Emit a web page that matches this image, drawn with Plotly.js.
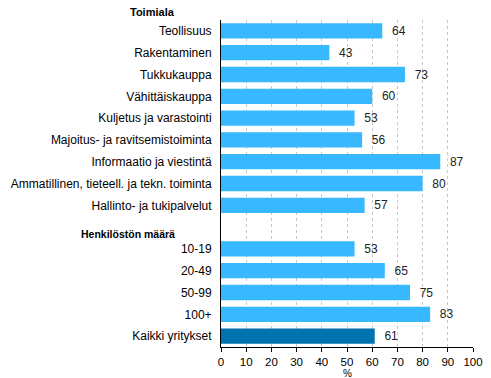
<!DOCTYPE html>
<html><head><meta charset="utf-8">
<script src="https://cdn.plot.ly/plotly-3.0.1.min.js"></script>
<style>html,body{margin:0;padding:0;background:#fff}</style>
</head><body>
<div id="chart" style="width:491px;height:378px"></div>
<script>
const categories = ["Teollisuus","Rakentaminen","Tukkukauppa","Vähittäiskauppa","Kuljetus ja varastointi","Majoitus- ja ravitsemistoiminta","Informaatio ja viestintä","Ammatillinen, tieteell. ja tekn. toiminta","Hallinto- ja tukipalvelut"," ","10-19","20-49","50-99","100+","Kaikki yritykset"];
const values = [64,43,73,60,53,56,87,80,57,null,53,65,75,83,61];
const headers = ["Toimiala","Henkilöstön määrä"];
const xTicks = [0,10,20,30,40,50,60,70,80,90,100];
const light = "#38b9ff", dark = "#0073b0";
const colors = categories.map(c => c === "Kaikki yritykset" ? dark : light);

const trace = {
  type: "bar", orientation: "h",
  x: values, y: categories,
  marker: {color: colors},
  width: 0.7,
  text: values.map(v => v === null ? "" : "\u00a0\u00a0" + v),
  textposition: "outside",
  textfont: {family: "Liberation Sans, Arial, sans-serif", size: 12, color: "#222"},
  cliponaxis: false,
  hoverinfo: "none"
};

const layout = {
  width: 491, height: 378,
  margin: {l: 221, r: 18, t: 20, b: 31},
  paper_bgcolor: "#fff", plot_bgcolor: "#fff",
  showlegend: false,
  font: {family: "Liberation Sans, Arial, sans-serif", size: 12, color: "#000"},
  xaxis: {
    range: [0, 100], tickvals: xTicks, ticktext: xTicks.map(String),
    showgrid: true, gridcolor: "#c8c8c8", griddash: "dot", gridwidth: 1,
    showline: true, linecolor: "#000", linewidth: 1,
    ticks: "outside", ticklen: 4, tickcolor: "#000",
    tickfont: {size: 11.5, color: "#000"},
    zeroline: false, fixedrange: true
  },
  yaxis: {
    type: "category", autorange: "reversed",
    showline: true, linecolor: "#000", linewidth: 1,
    ticks: "", ticklabelstandoff: 6,
    tickfont: {size: 12, color: "#000"},
    showgrid: false, zeroline: false, fixedrange: true
  },
  annotations: [
    {text: "<b>" + headers[0] + "</b>", xref: "paper", yref: "paper", x: -0.175, y: 1.0, xanchor: "right", yanchor: "bottom", showarrow: false, font: {size: 11, color: "#000"}},
    {text: "<b>" + headers[1] + "</b>", xref: "paper", yref: "y", x: -0.175, y: " ", xanchor: "right", yanchor: "middle", yshift: -7, showarrow: false, font: {size: 10.5, color: "#000"}},
    {text: "%", xref: "x", yref: "paper", x: 50, y: -0.1, xanchor: "center", yanchor: "bottom", borderpad: 0, showarrow: false, font: {size: 10, color: "#000"}}
  ],
  bargap: 0.3
};

Plotly.newPlot("chart", [trace], layout, {staticPlot: true, displayModeBar: false});
</script>
</body></html>
